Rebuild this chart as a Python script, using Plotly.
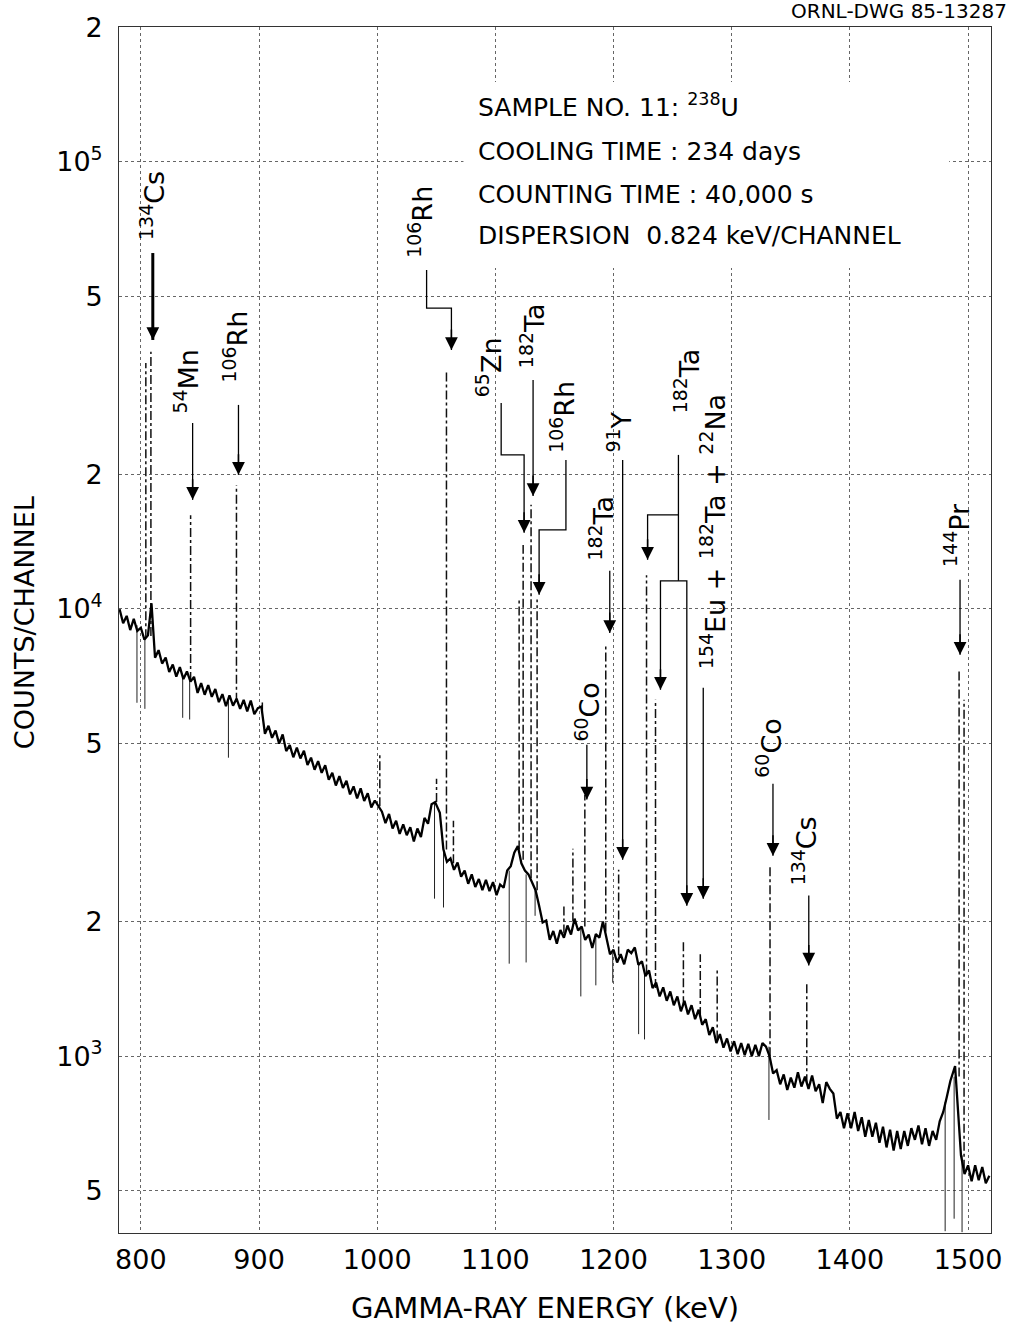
import numpy as np
import plotly.graph_objects as go

# ---- Continuum of the gamma-ray spectrum (energy in keV, counts per channel)
cont_e = [782, 785, 788, 791, 794, 797, 800, 803, 806, 809, 812, 815, 818, 821, 824, 827, 830, 833, 836, 839,
          842, 845, 848, 851, 854, 857, 860, 863, 866, 869, 872, 875, 878, 881, 884, 887, 890, 893, 896, 899,
          902, 905, 908, 911, 914, 917, 920, 923, 926, 929, 932, 935, 938, 941, 944, 947, 950, 953, 956, 959,
          962, 965, 968, 971, 974, 977, 980, 983, 986, 989, 992, 995, 998, 1001, 1004, 1007, 1010, 1013, 1016, 1019,
          1022, 1025, 1028, 1031, 1034, 1037, 1040, 1043, 1046, 1049, 1053, 1056, 1059, 1062, 1065, 1068, 1071, 1074, 1077, 1080,
          1083, 1086, 1089, 1092, 1095, 1098, 1101, 1104, 1107, 1110, 1113, 1116, 1119, 1122, 1125, 1128, 1131, 1134, 1137, 1140,
          1143, 1146, 1149, 1152, 1155, 1158, 1161, 1164, 1167, 1170, 1173, 1176, 1179, 1182, 1185, 1188, 1191, 1194, 1197, 1200,
          1203, 1206, 1209, 1212, 1215, 1218, 1221, 1224, 1227, 1230, 1233, 1236, 1239, 1242, 1245, 1248, 1251, 1254, 1257, 1260,
          1263, 1266, 1269, 1272, 1275, 1278, 1281, 1284, 1287, 1290, 1293, 1296, 1299, 1302, 1305, 1308, 1311, 1314, 1317, 1320,
          1323, 1326, 1329, 1332, 1335, 1338, 1341, 1344, 1347, 1350, 1353, 1356, 1359, 1362, 1365, 1368, 1371, 1374, 1377, 1380,
          1383, 1386, 1389, 1392, 1395, 1398, 1401, 1404, 1407, 1410, 1413, 1416, 1419, 1422, 1425, 1428, 1431, 1434, 1437, 1440,
          1443, 1446, 1449, 1452, 1455, 1458, 1461, 1464, 1467, 1470, 1473, 1476, 1479, 1482, 1485, 1489, 1494, 1497, 1500, 1503,
          1506, 1509, 1512, 1515, 1518]
cont_c = [9990, 9290, 9650, 8970, 9500, 8930, 9080, 8540, 8730, 10300, 7780, 8090, 7550, 7790, 7230, 7510, 7060, 7410, 6970, 7250,
          6880, 7050, 6490, 6830, 6430, 6760, 6360, 6620, 6190, 6450, 6060, 6410, 6080, 6300, 5980, 6260, 5900, 6240, 5820, 6000,
          6050, 5260, 5480, 5150, 5350, 5000, 5240, 4810, 4960, 4660, 4900, 4630, 4820, 4480, 4650, 4370, 4570, 4300, 4470, 4150,
          4300, 4030, 4230, 3980, 4130, 3850, 4010, 3770, 3970, 3720, 3870, 3600, 3730, 3620, 3520, 3320, 3480, 3230, 3360, 3140,
          3300, 3120, 3250, 3020, 3230, 3090, 3410, 3310, 3660, 3700, 3500, 2900, 2720, 2770, 2610, 2710, 2520, 2600, 2430, 2550,
          2390, 2490, 2350, 2480, 2340, 2450, 2290, 2420, 2380, 2600, 2660, 2850, 2950, 2700, 2600, 2550, 2450, 2350, 2170, 1990,
          2010, 1820, 1905, 1785, 1915, 1840, 1960, 1870, 2030, 1910, 1950, 1820, 1870, 1745, 1875, 1840, 2000, 1850, 1690, 1730,
          1620, 1690, 1605, 1730, 1700, 1750, 1600, 1630, 1510, 1555, 1420, 1460, 1360, 1425, 1330, 1395, 1300, 1360, 1260, 1330,
          1240, 1300, 1210, 1270, 1175, 1210, 1115, 1160, 1070, 1120, 1045, 1095, 1025, 1080, 1010, 1070, 1005, 1065, 1000, 1060,
          1000, 1070, 1050, 1000, 915, 930, 865, 910, 840, 895, 850, 920, 855, 900, 845, 905, 835, 865, 785, 875,
          845, 825, 725, 750, 690, 745, 690, 750, 680, 730, 660, 720, 660, 710, 640, 695, 625, 685, 615, 680,
          620, 680, 630, 690, 650, 700, 635, 690, 630, 680, 650, 715, 750, 810, 880, 950, 600, 545, 570, 525,
          570, 528, 565, 520, 540]

# ---- Full-energy peaks: position, count at the peak top and at its foot
peak_e = [804.2, 808.5, 842.1, 880.9, 902.8, 1002.2, 1050.2, 1058.6, 1064.5, 1120.1, 1123.5, 1130.2, 1135.3,
          1158.0, 1165.6, 1175.7, 1193.4, 1204.3, 1227.9, 1235.5, 1259.1, 1273.4, 1287.7, 1332.4, 1363.5,
          1492.4, 1496.6]
peak_top = [35500, 37600, 16200, 18900, 6270, 4720, 4170, 33900, 3360, 10500, 13900, 17100, 10500,
            2180, 2910, 3840, 8320, 2610, 11900, 6270, 1820, 1690, 1560, 2680, 1450,
            7310, 6270]
peak_base = [8600, 8700, 6900, 6200, 5900, 3620, 3700, 2900, 2700, 2900, 2750, 2500, 2350,
             1880, 2000, 1950, 1900, 1680, 1530, 1420, 1300, 1230, 1090, 1000, 870,
             900, 560]

# ---- Sharp downward excursions of the trace beside the strong lines
dip_e = [796.7, 803.4, 835.4, 841.3, 874.1, 1048.5, 1056.1, 1111.7, 1126.0, 1133.6, 1172.3, 1185.0,
         1199.3, 1221.2, 1226.2, 1331.5, 1480.6, 1488.2, 1494.9]
dip_from = [9200, 8600, 7100, 6900, 6220, 3700, 2900, 2600, 2550, 2350, 1930, 1850,
            1700, 1600, 1540, 1050, 790, 900, 600]
dip_low = [6170, 5980, 5710, 5660, 4650, 2250, 2150, 1610, 1620, 2060, 1360, 1440,
           1460, 1120, 1090, 720, 406, 433, 404]

# ---- Axis ticks
x_ticks = [800, 900, 1000, 1100, 1200, 1300, 1400, 1500]
y_tickvals = [500, 1000, 2000, 5000, 10000, 20000, 50000, 100000, 200000]
y_ticktext = ["5", "10<sup>3</sup>", "2", "5", "10<sup>4</sup>", "2", "5", "10<sup>5</sup>", "2"]

# ---- Nuclide identifications: text, text centre (keV, counts)
label_text = ["<sup>134</sup>Cs", "<sup>54</sup>Mn", "<sup>106</sup>Rh", "<sup>106</sup>Rh", "<sup>65</sup>Zn",
              "<sup>182</sup>Ta", "<sup>106</sup>Rh", "<sup>60</sup>Co", "<sup>182</sup>Ta", "<sup>91</sup>Y",
              "<sup>182</sup>Ta", "<sup>154</sup>Eu + <sup>182</sup>Ta + <sup>22</sup>Na", "<sup>60</sup>Co",
              "<sup>134</sup>Cs", "<sup>144</sup>Pr"]
label_e = [809.3, 838.8, 880.1, 1035.9, 1094.8, 1131.1, 1157.2, 1178.2, 1190.0, 1205.2,
           1262.4, 1284.4, 1331.5, 1361.8, 1490.7]
label_c = [80040, 32200, 38540, 73330, 34780, 40780, 26890, 5890, 15190, 24890,
           32350, 14880, 4895, 2882, 14650]

# Leader lines from each label down to the arrow tips (keV, counts)
leaders = [
    ([(810.1, 62520), (810.1, 39960)], 3.0),
    ([(843.8, 26060), (843.8, 17540)], 1.3),
    ([(882.6, 28600), (882.6, 19950)], 1.3),
    ([(1041.8, 57280), (1041.8, 47100), (1062.8, 47100), (1062.8, 37950)], 1.3),
    ([(1104.9, 28890), (1104.9, 22110), (1124.3, 22110), (1124.3, 14810)], 1.3),
    ([(1131.9, 32520), (1131.9, 17900)], 1.3),
    ([(1159.7, 21550), (1159.7, 15030), (1137.0, 15030), (1137.0, 10760)], 1.3),
    ([(1177.4, 4970), (1177.4, 3750)], 1.3),
    ([(1196.8, 12170), (1196.8, 8840)], 1.3),
    ([(1207.7, 21550), (1207.7, 2750)], 1.3),
    ([(1254.9, 22110), (1254.9, 11560)], 1.3),
    ([(1254.9, 16240), (1228.8, 16240), (1228.8, 12880)], 1.3),
    ([(1239.7, 6600), (1239.7, 11560), (1262.0, 11560), (1262.0, 2170)], 1.3),
    ([(1275.9, 6666), (1275.9, 2250)], 1.3),
    ([(1334.9, 4068), (1334.9, 2808)], 1.3),
    ([(1365.2, 2286), (1365.2, 1595)], 1.3),
    ([(1493.2, 11620), (1493.2, 7900)], 1.3),
]
arrow_tips = [(810.1, 39960), (843.8, 17540), (882.6, 19950), (1062.8, 37950), (1124.3, 14810),
              (1131.9, 17900), (1137.0, 10760), (1177.4, 3750), (1196.8, 8840), (1207.7, 2750),
              (1228.8, 12880), (1239.7, 6600), (1262.0, 2170), (1275.9, 2250), (1334.9, 2808),
              (1365.2, 1595), (1493.2, 7900)]

FONT = "DejaVu Sans"

fig = go.Figure()

# downward excursions
dx, dy = [], []
for e, a, b in zip(dip_e, dip_from, dip_low):
    dx += [e, e, None]
    dy += [a, b, None]
fig.add_trace(go.Scatter(x=dx, y=dy, mode="lines", line=dict(color="#222", width=1),
                         hoverinfo="skip"))

# peaks
px, py = [], []
for e, b, t in zip(peak_e, peak_base, peak_top):
    px += [e, e, None]
    py += [b, t, None]
fig.add_trace(go.Scatter(x=px, y=py, mode="lines",
                         line=dict(color="#111", width=1.5, dash="dashdot"), hoverinfo="skip"))

# continuum
fig.add_trace(go.Scatter(x=cont_e, y=cont_c, mode="lines",
                         line=dict(color="black", width=2.3), hoverinfo="skip"))

# leader lines
for path, w in leaders:
    fig.add_trace(go.Scatter(x=[p[0] for p in path], y=[p[1] for p in path], mode="lines",
                             line=dict(color="black", width=w), hoverinfo="skip"))

# arrow heads
for e, c in arrow_tips:
    fig.add_annotation(x=e, y=np.log10(c), xref="x", yref="y", ax=0, ay=-22, text="",
                       showarrow=True, arrowhead=2, arrowsize=1.7, arrowwidth=1.5,
                       arrowcolor="black")

# nuclide labels
for t, e, c in zip(label_text, label_e, label_c):
    fig.add_annotation(x=e, y=np.log10(c), xref="x", yref="y", text=t, textangle=-90,
                       showarrow=False, xanchor="center", yanchor="middle",
                       font=dict(family=FONT, size=27, color="black"))

# measurement details box
fig.add_shape(type="rect", xref="paper", yref="paper", x0=0.395, x1=0.952, y0=0.8002, y1=0.9544,
              fillcolor="white", line=dict(width=0), layer="above")
info_lines = ["SAMPLE NO. 11: <sup>238</sup>U", "COOLING TIME : 234 days",
              "COUNTING TIME : 40,000 s", "DISPERSION\u00a0\u00a00.824 keV/CHANNEL"]
info_y = [0.9345, 0.8964, 0.8607, 0.8267]
for t, y in zip(info_lines, info_y):
    fig.add_annotation(x=0.4098, y=y, xref="paper", yref="paper", text=t, showarrow=False,
                       xanchor="left", yanchor="middle",
                       font=dict(family=FONT, size=25, color="black"))

# drawing number
fig.add_annotation(x=1.0205, y=1.0135, xref="paper", yref="paper", text="ORNL-DWG 85-13287",
                   showarrow=False, xanchor="right", yanchor="middle",
                   font=dict(family=FONT, size=20, color="black"))

# axis titles
fig.add_annotation(x=-0.1085, y=0.506, xref="paper", yref="paper", text="COUNTS/CHANNEL",
                   textangle=-90, showarrow=False, xanchor="center", yanchor="middle",
                   font=dict(family=FONT, size=27, color="black"))
fig.add_annotation(x=0.4886, y=-0.0622, xref="paper", yref="paper", text="GAMMA-RAY ENERGY (keV)",
                   showarrow=False, xanchor="center", yanchor="middle",
                   font=dict(family=FONT, size=29, color="black"))

fig.update_layout(width=1014, height=1330, margin=dict(l=119, r=19, t=27, b=97),
                  paper_bgcolor="white", plot_bgcolor="white", showlegend=False,
                  font=dict(family=FONT, color="black"))
fig.update_xaxes(range=[781.5, 1519.4], tickvals=x_ticks, ticks="", showgrid=True,
                 gridcolor="#666", griddash="dot", gridwidth=1, zeroline=False,
                 showline=True, mirror=True, linecolor="#333", linewidth=1,
                 tickfont=dict(family=FONT, size=27), ticklabelstandoff=3)
fig.update_yaxes(type="log", range=[2.6045, 5.3015], tickvals=y_tickvals, ticktext=y_ticktext,
                 ticks="", showgrid=True, gridcolor="#666", griddash="dot", gridwidth=1,
                 zeroline=False, showline=True, mirror=True, linecolor="#333", linewidth=1,
                 tickfont=dict(family=FONT, size=27), ticklabelstandoff=10)

fig.write_html("out.html")
